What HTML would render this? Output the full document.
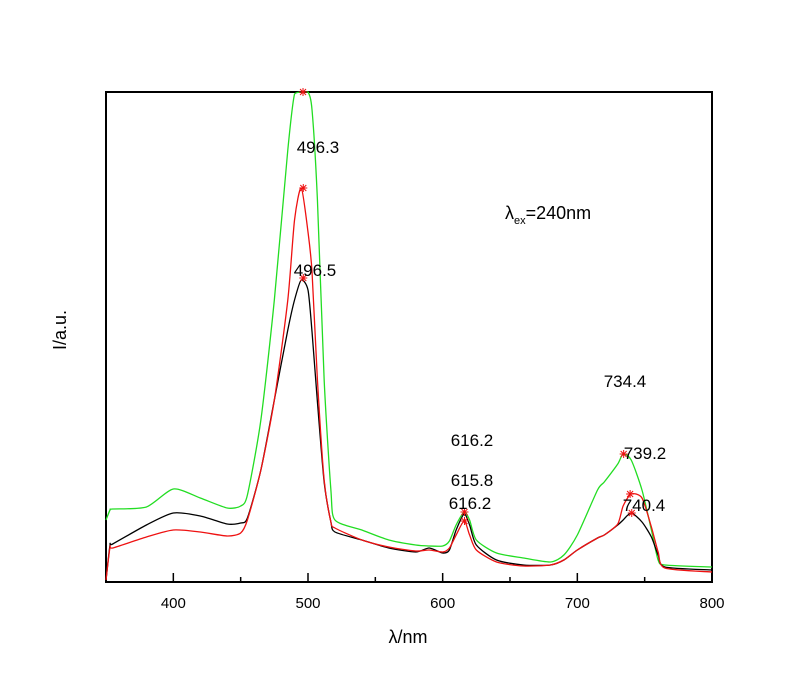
<!DOCTYPE html>
<html><head><meta charset="utf-8"><style>
body{margin:0;background:#fff}
svg text{font-family:"Liberation Sans",Arial,sans-serif;fill:#000}
</style></head><body>
<svg id="chart" width="800" height="695" xmlns="http://www.w3.org/2000/svg">
<rect x="106" y="92" width="606" height="490" fill="none" stroke="#000" stroke-width="2"/>
<g id="ticks"></g>
<g id="series"></g>
<g id="marks"></g>
<text x="408" y="643" font-size="18" text-anchor="middle">λ/nm</text>
<text transform="translate(66,330) rotate(-90)" font-size="18" text-anchor="middle">I/a.u.</text>
<text x="505" y="219" font-size="18">λ<tspan font-size="11" dy="5">ex</tspan><tspan dy="-5">=240nm</tspan></text>
</svg>
<script>
const xTicks=[400,500,600,700,800];
const xMinor=[450,550,650,750];
const wl=[350,353,355,380,400,420,440,450,455,465,475,485,490,495,500,503,507,512,517,520,540,560,580,590,600,605,610,616,620,625,640,660,680,690,700,715,720,730,734,740,748,755,760,765,800];
const green=[62,72,73,75,93,84,74,76,87,162,282,432,488,490,490,472,382,202,92,62,52,42,37,36,36,41,57,70,62,42,29,24,20,27,47,92,100,118,128,122,92,52,22,17,15];
const black=[2,37,38,57,69,66,58,59,64,112,182,252,282,302,292,250,180,100,60,50,42,34,30,34,29,32,52,68,57,37,22,17,17,22,32,44,47,57,62,69,60,45,27,15,12];
const red=[2,35,34,45,52,50,46,49,62,112,182,282,362,394,350,310,202,102,60,54,42,35,31,32,30,34,47,61,47,32,20,16,17,22,32,44,47,58,76,88,84,55,30,14,10];
const markerWl=[496.3,496.5,496.5,616.2,616.2,734.4,739.2,740.4];
const markerVal=[490,394,304,70,61,128,88,69];
const labels=["496.3","496.5","616.2","615.8","616.2","734.4","739.2","740.4"];
const labelPos=[[318,153],[315,276],[472,446],[472,486],[470,509],[625,387],[645,459],[644,511]];
const X=v=>106+(v-350)*606/450;
const Y=v=>Math.max(92,582-v);
const NS="http://www.w3.org/2000/svg";
const t=document.getElementById('ticks');
function mk(tag,at,parent){const e=document.createElementNS(NS,tag);for(const k in at)e.setAttribute(k,at[k]);parent.appendChild(e);return e;}
xTicks.forEach(v=>{
 const l=mk('line',{x1:X(v),x2:X(v),y1:582,y2:573,stroke:'#000','stroke-width':1.5},t);
 
 
 const tx=mk('text',{x:X(v),y:608,'font-size':15,'text-anchor':'middle'},t);tx.textContent=v;
 
 
});
xMinor.forEach(v=>{
 const l=mk('line',{x1:X(v),x2:X(v),y1:582,y2:577,stroke:'#000','stroke-width':1.5},t);
 
 
});
function smooth(pts){
 let d='M'+pts[0][0]+','+pts[0][1];
 for(let i=0;i<pts.length-1;i++){
  const p0=pts[Math.max(0,i-1)],p1=pts[i],p2=pts[i+1],p3=pts[Math.min(pts.length-1,i+2)];
  const k=0.12;
  const c1=[p1[0]+(p2[0]-p0[0])*k,Math.max(92,p1[1]+(p2[1]-p0[1])*k)];
  const c2=[p2[0]-(p3[0]-p1[0])*k,Math.max(92,p2[1]-(p3[1]-p1[1])*k)];
  d+=`C${c1[0]},${c1[1]} ${c2[0]},${c2[1]} ${p2[0]},${p2[1]}`;
 }
 return d;
}
const s=document.getElementById('series');
[[green,'#22dd22','green-series'],[black,'#000','black-series'],[red,'#ee1111','red-series']].forEach(([d,c,n])=>{
 const p=mk('path',{d:smooth(wl.map((w,i)=>[X(w),Y(d[i])])),fill:'none',stroke:c,'stroke-width':1.3},s);
 
 
});
const m=document.getElementById('marks');
markerWl.forEach((w,i)=>{
 const x=X(w),y=Y(markerVal[i]);
 const g=mk('path',{d:`M${x-4},${y}H${x+4}M${x},${y-4}V${y+4}M${x-3},${y-3}L${x+3},${y+3}M${x-3},${y+3}L${x+3},${y-3}`,stroke:'#ee1111','stroke-width':1},m);
 
 
});
labels.forEach((lb,i)=>{
 const tx=mk('text',{x:labelPos[i][0],y:labelPos[i][1],'font-size':17,'text-anchor':'middle'},m);tx.textContent=lb;
 
 
});
</script>
</body></html>
